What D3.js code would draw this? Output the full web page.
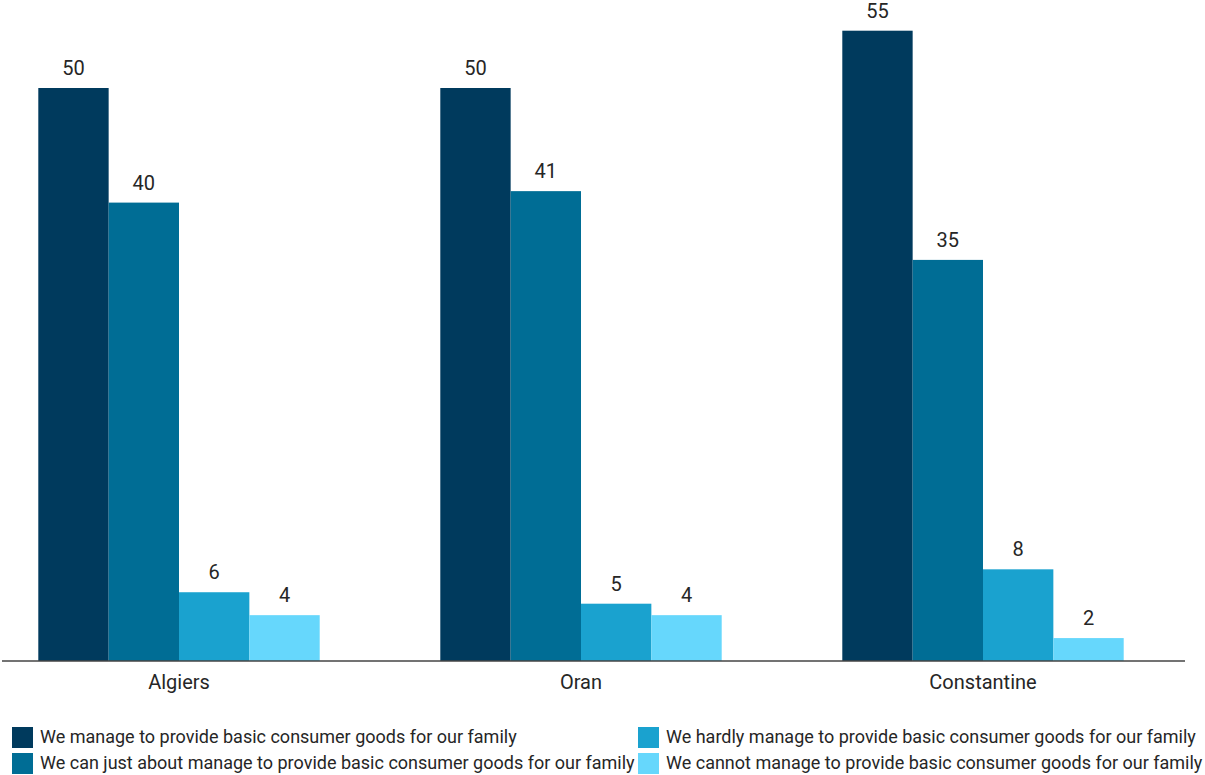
<!DOCTYPE html>
<html><head><meta charset="utf-8">
<script src="https://cdn.jsdelivr.net/npm/d3@7"></script>
<style>body{margin:0;background:#fff;} text{font-family:Roboto,sans-serif;fill:#262626;}</style>
</head><body>
<svg id="chart" width="1205" height="775"></svg>
<script>
const cities = ["Algiers", "Oran", "Constantine"];
const seriesNames = [
  "We manage to provide basic consumer goods for our family",
  "We can just about manage to provide basic consumer goods for our family",
  "We hardly manage to provide basic consumer goods for our family",
  "We cannot manage to provide basic consumer goods for our family"
];
const manage = [50, 50, 55];
const justAbout = [40, 41, 35];
const hardly = [6, 5, 8];
const cannot = [4, 4, 2];
const colors = ["#003a5d", "#006d95", "#1aa2cf", "#66d7fc"];

const series = [manage, justAbout, hardly, cannot];
const svg = d3.select("#chart");
const baseY = 661;
const x0 = d3.scaleBand().domain(cities).range([-22, 1184]).paddingInner(0.3).paddingOuter(0.15);
const x1 = d3.scaleBand().domain(d3.range(4)).range([0, x0.bandwidth()]);
const y = d3.scaleLinear().domain([0, 50]).range([baseY, 88]);

const g = svg.append("g");
cities.forEach((c, ci) => {
  const grp = g.append("g").attr("transform", `translate(${x0(c)},0)`);
  series.forEach((s, si) => {
    grp.append("rect").attr("x", x1(si)).attr("width", x1.bandwidth())
      .attr("y", y(s[ci])).attr("height", baseY - y(s[ci])).attr("fill", colors[si]);
    grp.append("text").attr("x", x1(si) + x1.bandwidth()/2).attr("y", y(s[ci]) - 13)
      .attr("text-anchor", "middle").style("font-size", "20px").text(s[ci]);
  });
});

// axis
const axis = svg.append("g").attr("transform", `translate(0,${baseY})`)
  .call(d3.axisBottom(x0).tickSize(0).tickPadding(14));
axis.select(".domain").remove();
axis.selectAll("text").style("font-size", "20px").style("font-family", "Roboto, sans-serif").style("fill", "#262626");
svg.append("line").attr("x1", 2).attr("x2", 1185).attr("y1", baseY).attr("y2", baseY)
  .attr("stroke", "#444").attr("stroke-width", 1.5);

// legend
const legPos = [[12, 727], [12, 753], [638, 727], [638, 753]];
seriesNames.forEach((n, i) => {
  const [lx, ly] = legPos[i];
  svg.append("rect").attr("x", lx).attr("y", ly).attr("width", 21).attr("height", 21).attr("fill", colors[i]);
  svg.append("text").attr("x", lx + 28).attr("y", ly + 16).style("font-size", "18px").text(n);
});
</script>
</body></html>
